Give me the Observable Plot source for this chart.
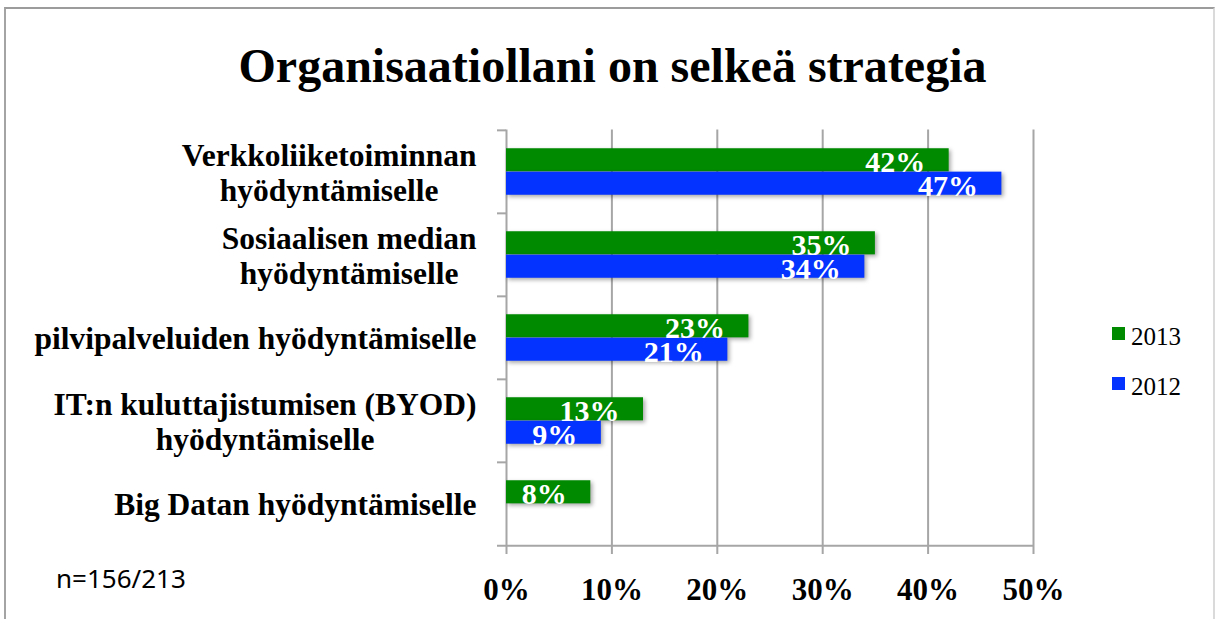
<!DOCTYPE html>
<html>
<head>
<meta charset="utf-8">
<script src="https://cdn.jsdelivr.net/npm/d3@7"></script>
<script src="https://cdn.jsdelivr.net/npm/@observablehq/plot@0.6"></script>
<style>
  html, body { margin: 0; padding: 0; background: #fff; }
  #wrap { position: relative; width: 1219px; height: 619px; overflow: hidden; font-family: "Liberation Serif", "Times New Roman", serif; }
  #frame { position: absolute; left: 4px; top: 7px; width: 1211px; height: 700px; border-top: 2px solid #9c9c9c; border-left: 2px solid #a4a4a4; border-right: 2px solid #dadada; box-sizing: border-box; }
  #title { position: absolute; left: 0; top: 42px; width: 1225px; text-align: center; font-weight: bold; font-size: 48px; line-height: 48px; color: #000; }
  #chart { position: absolute; left: 0; top: 0; }
  .leg { position: absolute; left: 1112px; font-size: 25px; line-height: 25px; color: #000; white-space: nowrap; }
  .leg .sw { position: absolute; left: 0; top: 3px; width: 13px; height: 13px; }
  .leg .lab { position: absolute; left: 19px; top: 0; }
  #note { position: absolute; left: 56px; top: 565px; font-family: "Noto Sans", "Open Sans", sans-serif; font-size: 26px; line-height: 26px; color: #000; }
  #chart g[aria-label="bar"] rect { filter: drop-shadow(2px 2px 2px rgba(0,0,0,0.35)); }
</style>
</head>
<body>
<div id="wrap">
  <div id="frame"></div>
  <div id="chart"></div>
  <div id="title"></div>
  <div id="legend"></div>
  <div id="note"></div>
</div>
<script>
// ---- data ----
const titleText = "Organisaatiollani on selkeä strategia";
const noteText = "n=156/213";
const categories = [
  "Verkkoliiketoiminnan\nhyödyntämiselle",
  "Sosiaalisen median\nhyödyntämiselle",
  "pilvipalveluiden hyödyntämiselle",
  "IT:n kuluttajistumisen (BYOD)\nhyödyntämiselle",
  "Big Datan hyödyntämiselle"
];
const series = ["2013", "2012"];
const values2013 = [0.42, 0.35, 0.23, 0.13, 0.08];
const values2012 = [0.47, 0.34, 0.21, 0.09, null];
const xTicks = [0, 0.1, 0.2, 0.3, 0.4, 0.5];
const colors = ["#008a00", "#0433ff"];

// ---- layout ----
const W = 1219, H = 619, mL = 506, mR = 186, mT = 129.5, mB = 73;
const band = (H - mT - mB) / categories.length;
const barH = 23.4;
const t1 = (band - 2 * barH) / 2;

const rows13 = categories.map((c, i) => ({category: c, year: series[0], value: values2013[i]})).filter(d => d.value != null);
const rows12 = categories.map((c, i) => ({category: c, year: series[1], value: values2012[i]})).filter(d => d.value != null);
const pct = d3.format(".0%");
const line = {stroke: "#a6a6a6", strokeWidth: 2, strokeOpacity: 1};
const serif = "Liberation Serif, Times New Roman, serif";

const chart = Plot.plot({
  width: W, height: H,
  marginLeft: mL, marginRight: mR, marginTop: mT, marginBottom: mB,
  style: {fontFamily: serif, background: "transparent", color: "#000", overflow: "visible"},
  x: {domain: [0, 0.5]},
  y: {domain: categories, padding: 0},
  marks: [
    Plot.ruleX(xTicks, {...line, insetBottom: -8}),
    Plot.ruleY(categories, {y: d => d, dy: -band / 2, x1: 0, x2: 0, insetLeft: -9, ...line}),
    Plot.ruleY(categories.slice(-1), {y: d => d, dy: band / 2, x1: 0, x2: 0.5, insetLeft: -9, ...line}),
    Plot.barX(rows13, {x: "value", y: "category", fill: colors[0], insetTop: t1, insetBottom: band - t1 - barH}),
    Plot.barX(rows12, {x: "value", y: "category", fill: colors[1], insetTop: t1 + barH, insetBottom: t1}),
    Plot.text(rows13, {x: "value", y: "category", text: d => pct(d.value), textAnchor: "end", dx: -24, dy: -(barH / 2) + 2.3, fill: "white", fontSize: 30, fontWeight: "bold"}),
    Plot.text(rows12, {x: "value", y: "category", text: d => pct(d.value), textAnchor: "end", dx: -24, dy: (barH / 2) + 2.3, fill: "white", fontSize: 30, fontWeight: "bold"}),
    Plot.axisX({ticks: xTicks, tickFormat: pct, tickSize: 0, tickPadding: 31, fontSize: 31, fontWeight: "bold", label: null}),
    Plot.axisY({tickSize: 0, tickPadding: 30, fontSize: 31.5, fontWeight: "bold", lineHeight: 1.12, label: null})
  ]
});
document.getElementById("chart").appendChild(chart);

// center multi-line category labels (Excel style)
chart.querySelectorAll('g[aria-label="y-axis tick label"] text').forEach(t => {
  const spans = t.querySelectorAll("tspan");
  const parts = spans.length ? Array.from(spans) : [t];
  const w = Math.max(...parts.map(p => p.getComputedTextLength()));
  t.setAttribute("text-anchor", "middle");
  parts.forEach(p => p.setAttribute("x", -w / 2));
});

document.getElementById("title").textContent = titleText;
document.getElementById("note").textContent = noteText;
const legend = document.getElementById("legend");
series.forEach((s, i) => {
  const item = document.createElement("div");
  item.className = "leg";
  item.style.top = (324 + i * 50) + "px";
  item.innerHTML = `<span class="sw" style="background:${colors[i]}"></span><span class="lab">${s}</span>`;
  legend.appendChild(item);
});
</script>
</body>
</html>
